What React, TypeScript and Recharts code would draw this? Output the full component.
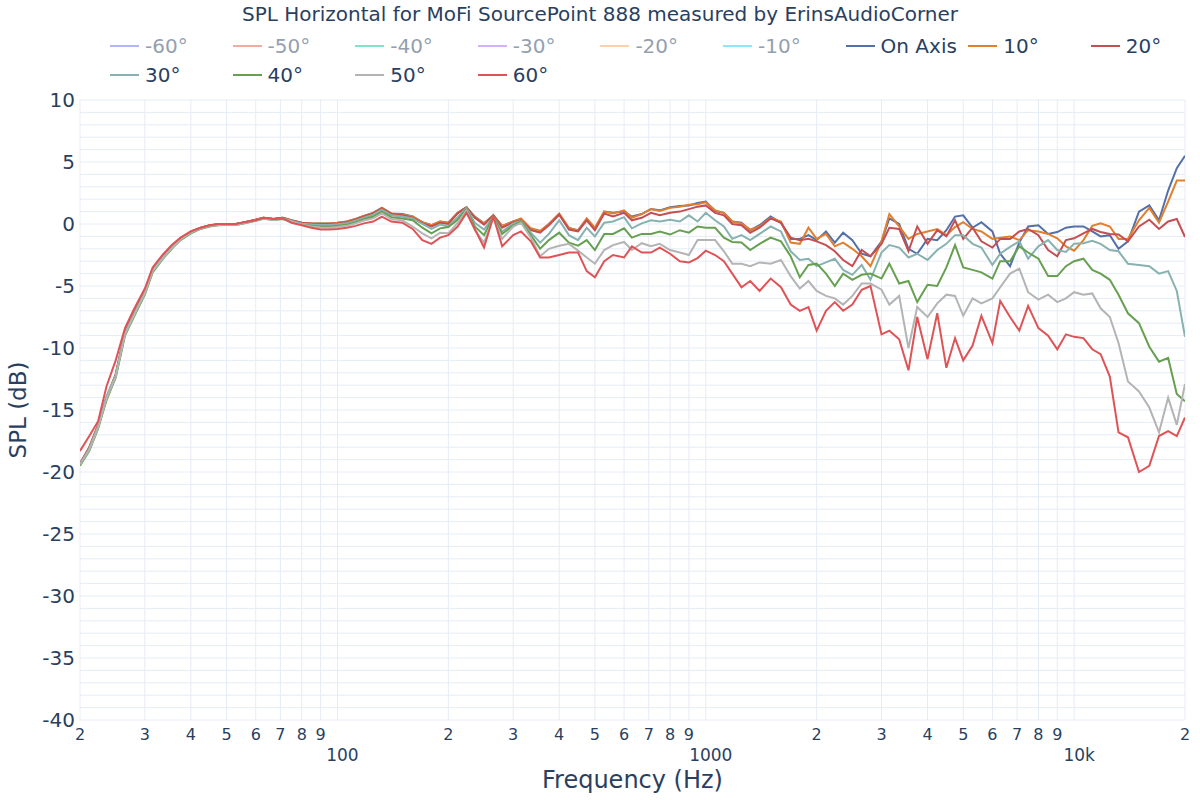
import React from 'react';
import { LineChart, Line, XAxis, YAxis, CartesianGrid, Label } from 'recharts';

// Frequency grid (Hz), roughly 1/12 octave
const freqs = [
  20, 21.2, 22.4, 23.6, 25, 26.5, 28, 30, 31.5, 33.5, 35.5, 37.5, 40, 42.5, 45, 47.5, 50, 53, 56, 60, 63, 67, 71, 75, 80, 85, 90, 95,
  100, 106, 112, 118, 125, 132, 140, 150, 160, 170, 180, 190, 200, 212, 224, 236, 250, 265, 280, 300, 315, 335, 355, 375, 400, 425, 450, 475, 500, 530, 560, 600, 630, 670, 710, 750, 800, 850, 900, 950,
  1000, 1060, 1120, 1180, 1250, 1320, 1400, 1500, 1600, 1700, 1800, 1900, 2000, 2120, 2240, 2360, 2500, 2650, 2800, 3000, 3150, 3350, 3550, 3750, 4000, 4250, 4500, 4750, 5000, 5300, 5600, 6000, 6300, 6700, 7100, 7500, 8000, 8500, 9000, 9500,
  10000, 10600, 11200, 11800, 12500, 13200, 14000, 15000, 16000, 17000, 18000, 19000, 20000,
];

// SPL (dB) per angle
const onAxis = [
  -19.4, -18.1, -16.3, -14.0, -12.2, -8.8, -7.3, -5.5, -3.7, -2.7, -1.85, -1.2, -0.65,
  -0.32, -0.12, -0.03, 0.0, 0.0, 0.15, 0.35, 0.5, 0.4, 0.5, 0.3, 0.1, 0.05, 0.05, 0.05,
  0.1, 0.2, 0.4, 0.65, 0.9, 1.3, 0.85, 0.8,
  0.6, 0.15, -0.1, 0.2, 0.1, 0.9, 1.35, 0.6, 0.05, 0.7, -0.15, 0.2, 0.4, -0.4, -0.6,
  0.0, 0.8, -0.35, -0.5, 0.4, -0.35, 1.0, 0.9, 1.0, 0.6, 0.8, 1.2, 1.1, 1.35, 1.45, 1.5, 1.7,
  1.8, 1.05, 0.9, 0.2, 0.1, -0.5, -0.1, 0.6, 0.1, -1.2, -1.2, -0.9, -1.3, -0.6, -1.5, -0.7, -1.3, -2.4, -2.6, -1.4,
  0.45, 0.0, -2.0, -2.4, -1.2, -1.3, -0.5, 0.6, 0.7, -0.3, 0.15, -0.6, -2.4, -3.4, -1.5, -0.2, -0.1, -0.8, -0.65, -0.3,
  -0.2, -0.2, -0.6, -1.0, -0.9, -2.0, -1.4, 1.0, 1.5, 0.3, 2.7, 4.5, 5.5,
];
const deg10 = [
  -19.4, -18.0, -16.2, -14.2, -12.2, -8.8, -7.3, -5.5, -3.7, -2.7, -1.85, -1.2, -0.65,
  -0.32, -0.12, -0.03, 0.0, 0.0, 0.15, 0.35, 0.5, 0.4, 0.5, 0.3, 0.1, 0.05, 0.05, 0.05,
  0.1, 0.2, 0.4, 0.65, 0.9, 1.3, 0.85, 0.75,
  0.6, 0.15, -0.1, 0.2, 0.1, 0.9, 1.35, 0.55, 0.05, 0.7, -0.15, 0.2, 0.45, -0.35, -0.55,
  0.0, 0.85, -0.3, -0.55, 0.45, -0.3, 1.0, 0.85, 1.1, 0.5, 0.8, 1.2, 1.05, 1.3, 1.4, 1.55, 1.6,
  1.75, 1.1, 0.9, 0.2, 0.05, -0.45, -0.2, 0.5, 0.2, -1.5, -1.6, -0.3, -1.2, -0.8, -1.8, -1.5, -2.0, -2.6, -3.4, -1.4,
  0.8, -0.2, -1.2, -0.8, -0.6, -0.4, -0.9, -0.25, 0.15, -0.4, -0.6, -1.2, -1.1, -1.0, -1.3, -0.5, -0.6, -0.8, -1.15, -1.8,
  -2.15, -1.3, -0.15, 0.05, -0.2, -1.2, -1.2, 0.3, 1.3, 0.1, 1.8, 3.5, 3.5,
];
const deg20 = [
  -19.3, -18.0, -16.2, -14.0, -12.1, -8.7, -7.2, -5.4, -3.6, -2.65, -1.8, -1.15, -0.6,
  -0.3, -0.1, -0.03, 0.0, 0.0, 0.15, 0.35, 0.5, 0.4, 0.5, 0.28, 0.08, 0.02, 0.0, 0.0,
  0.05, 0.15, 0.35, 0.6, 0.85, 1.25, 0.8, 0.7,
  0.5, 0.05, -0.2, 0.1, 0.0, 0.85, 1.35, 0.5, -0.05, 0.7, -0.3, 0.15, 0.3, -0.5, -0.7,
  -0.1, 0.75, -0.45, -0.6, 0.3, -0.5, 0.85, 0.6, 0.9, 0.3, 0.5, 0.9, 0.7, 0.9, 1.0, 1.2, 1.4,
  1.5, 0.9, 0.7, 0.0, -0.1, -0.7, -0.3, 0.45, 0.1, -1.1, -1.3, -1.2, -1.4, -1.7, -2.2, -2.9, -3.4, -2.1, -2.6, -1.6,
  -0.3, -0.4, -2.2, -0.2, -1.6, -0.5, -1.0, 0.3, -1.2, -0.3, -1.4, -1.9, -1.2, -1.2, -0.6, -0.4, -0.9, -2.1, -2.6, -1.3,
  -1.15, -0.75, -0.4, -0.65, -0.8, -0.85, -1.4, -0.2, 0.35, -0.4, 0.2, 0.4, -1.05,
];
const deg30 = [
  -19.4, -18.1, -16.3, -13.9, -12.2, -8.8, -7.3, -5.5, -3.7, -2.7, -1.85, -1.2, -0.67,
  -0.34, -0.15, -0.06, -0.03, -0.04, 0.1, 0.3, 0.47, 0.37, 0.45, 0.24, 0.02, -0.05, -0.08, -0.08,
  -0.02, 0.07, 0.27, 0.5, 0.75, 1.15, 0.7, 0.6,
  0.45, 0.0, -0.4, -0.05, -0.2, 0.55, 1.3, 0.1, -0.45, 0.6, -0.6, 0.05, 0.25, -0.7, -1.5,
  -0.8, 0.3, -0.9, -1.3, -0.3, -1.0, 0.1, 0.2, 0.55, -0.35, 0.05, 0.3, 0.2, 0.35, 0.2, 0.7, 0.2,
  0.9, 0.3, -0.2, -1.2, -0.9, -1.3, -0.8, -0.2, -0.6, -2.2, -2.9, -2.8, -3.4, -3.1, -2.8, -3.7, -4.1, -3.3, -4.5, -2.3,
  -1.7, -1.9, -2.7, -2.4, -2.9, -2.1, -1.6, -0.9, -0.9, -1.6, -1.9, -3.3, -2.4, -1.85, -1.4, -2.8, -1.8, -1.3, -2.1, -2.25,
  -1.6, -1.55, -1.35, -1.6, -2.1, -2.2, -3.2, -3.3, -3.4, -4.0, -3.8, -5.4, -9.1,
];
const deg40 = [
  -19.5, -18.3, -16.5, -14.2, -12.4, -9.0, -7.5, -5.7, -3.9, -2.85, -2.0, -1.3, -0.75,
  -0.4, -0.2, -0.1, -0.08, -0.08, 0.05, 0.25, 0.42, 0.32, 0.4, 0.18, -0.05, -0.15, -0.2, -0.2,
  -0.15, -0.05, 0.15, 0.38, 0.6, 1.0, 0.55, 0.45,
  0.3, -0.3, -0.75, -0.35, -0.25, 0.35, 1.2, -0.2, -0.9, 0.6, -0.8, -0.1, 0.2, -0.9, -2.0,
  -1.3, -0.7, -1.5, -1.75, -1.3, -2.1, -0.8, -0.8, -0.35, -1.1, -0.8, -0.8, -0.6, -0.85, -0.5, -0.7, -0.2,
  -0.3, -0.3, -1.1, -1.45, -1.5, -2.1, -1.6, -1.1, -1.4, -2.6, -4.3, -3.3, -3.2, -4.0, -5.0, -4.0, -4.5, -4.1, -4.0, -4.4,
  -3.2, -4.8, -4.6, -6.3, -4.9, -5.0, -3.5, -1.7, -3.5, -3.7, -3.9, -4.4, -3.0, -3.0, -1.8, -2.3, -2.8, -4.2, -4.2, -3.4,
  -3.0, -2.8, -3.7, -4.0, -4.5, -5.7, -7.2, -8.0, -9.9, -11.1, -10.8, -13.7, -14.3,
];
const deg50 = [
  -19.4, -18.2, -16.4, -14.1, -12.3, -8.9, -7.4, -5.6, -3.8, -2.8, -1.95, -1.25, -0.7,
  -0.37, -0.17, -0.08, -0.06, -0.06, 0.08, 0.27, 0.44, 0.33, 0.42, 0.2, -0.05, -0.2, -0.28, -0.3,
  -0.25, -0.15, 0.05, 0.28, 0.45, 0.85, 0.4, 0.3,
  -0.2, -0.75, -1.15, -0.7, -0.75, 0.1, 1.1, -0.5, -1.5, 0.5, -1.2, -0.2, 0.1, -1.1, -2.6,
  -2.0, -1.75, -1.6, -2.15, -2.7, -3.2, -2.1, -1.7, -1.45, -2.1, -1.55, -1.8, -1.6, -2.1, -2.3, -2.5, -1.3,
  -1.3, -1.3, -2.2, -3.2, -3.2, -3.4, -3.1, -3.2, -2.9, -4.2, -5.2, -4.6, -5.4, -5.8, -6.0, -6.5, -5.8, -4.8, -4.8, -5.3,
  -6.5, -5.8, -10.0, -6.7, -7.5, -6.4, -5.7, -5.8, -7.4, -6.0, -6.4, -6.0, -5.1, -4.0, -3.6, -5.5, -6.1, -5.7, -6.3, -6.0,
  -5.5, -5.7, -5.6, -6.8, -7.5, -9.6, -12.7, -13.5, -14.8, -16.8, -14.0, -16.2, -12.9,
];
const deg60 = [
  -18.3, -17.1, -15.9, -13.1, -11.0, -8.4, -6.9, -5.2, -3.5, -2.5, -1.7, -1.1, -0.6,
  -0.3, -0.1, 0.0, 0.0, 0.0, 0.15, 0.3, 0.5, 0.4, 0.45, 0.1, -0.1, -0.3, -0.45, -0.45,
  -0.4, -0.3, -0.15, 0.05, 0.2, 0.6, 0.2, 0.1,
  -0.4, -1.3, -1.6, -1.1, -0.9, -0.2, 0.9, -0.4, -1.9, 0.6, -1.8, -0.9, -0.6, -1.4, -2.7,
  -2.7, -2.5, -2.3, -2.3, -3.8, -4.3, -3.0, -2.5, -2.7, -1.8, -2.3, -2.3, -1.9, -2.4, -3.0, -3.1, -2.75,
  -2.15, -2.5, -3.0, -4.0, -5.1, -4.6, -5.4, -4.4, -5.1, -6.5, -7.0, -6.7, -8.6, -7.0, -6.3, -7.0, -6.5, -5.3, -5.0, -8.9,
  -8.6, -9.3, -11.8, -7.5, -10.9, -7.2, -11.6, -9.2, -11.0, -9.8, -7.4, -9.6, -6.2, -7.5, -8.6, -6.6, -8.4, -9.0, -10.1, -8.9,
  -9.1, -9.2, -10.1, -10.5, -12.3, -16.8, -17.2, -20.0, -19.5, -17.1, -16.7, -17.1, -15.6,
];

const seriesKeys = ['on', 'd10', 'd20', 'd30', 'd40', 'd50', 'd60'];
const seriesNames = ['On Axis', '10°', '20°', '30°', '40°', '50°', '60°'];
const seriesColors = ['#5470a8', '#e07f2e', '#c44e52', '#88b2b0', '#66a050', '#b4b4b4', '#de5456'];
const seriesValues = [onAxis, deg10, deg20, deg30, deg40, deg50, deg60];

// legend-only (toggled off) entries
const hiddenNames = ['-60°', '-50°', '-40°', '-30°', '-20°', '-10°'];
const hiddenColors = ['#b1b6fc', '#f7aa9d', '#7fe5ca', '#d5b1fc', '#ffd0ac', '#8ce9f9'];

const xTicks = [
  20, 30, 40, 50, 60, 70, 80, 90, 100, 200, 300, 400, 500, 600, 700, 800, 900,
  1000, 2000, 3000, 4000, 5000, 6000, 7000, 8000, 9000, 10000, 20000,
];
const xTickLabels = [
  '2', '3', '4', '5', '6', '7', '8', '9', '100', '2', '3', '4', '5', '6', '7', '8', '9',
  '1000', '2', '3', '4', '5', '6', '7', '8', '9', '10k', '2',
];
const decadeTicks = [100, 1000, 10000];
const yTicks = [-40, -35, -30, -25, -20, -15, -10, -5, 0, 5, 10];
const gridLevels = Array.from({ length: 51 }, (_, k) => -40 + k);

const data = freqs.map((f, i) => {
  const row: Record<string, number> = { f };
  seriesKeys.forEach((k, s) => {
    row[k] = seriesValues[s][i];
  });
  return row;
});

const FONT = 'DejaVu Sans, Verdana, sans-serif';
const TEXT = '#2a3f5f';
const FADED_TEXT = '#949faf';
const GRID = '#e6ecf5';

const FreqTick = (props: any) => {
  const { x, y, payload } = props;
  const idx = xTicks.indexOf(payload.value);
  const major = decadeTicks.includes(payload.value);
  return (
    <text
      x={major ? x + 5 : x}
      y={y + (major ? 41 : 20)}
      textAnchor="middle"
      fill={TEXT}
      fontSize={major ? 17 : 16}
      fontFamily={FONT}
    >
      {idx >= 0 ? xTickLabels[idx] : ''}
    </text>
  );
};

const LegendBlock = () => {
  const items = [
    ...hiddenNames.map((n, i) => ({ name: n, color: hiddenColors[i], off: true })),
    ...seriesNames.map((n, i) => ({ name: n, color: seriesColors[i], off: false })),
  ];
  return (
    <>
      {items.map((it, k) => {
        const col = k % 9;
        const row = Math.floor(k / 9);
        return (
          <div
            key={it.name}
            style={{
              position: 'absolute',
              left: 110 + col * 122.6,
              top: (row === 0 ? 45.5 : 74.5) - 12,
              height: 24,
              display: 'flex',
              alignItems: 'center',
              whiteSpace: 'nowrap',
            }}
          >
            <span style={{ display: 'inline-block', width: 29, height: 2, background: it.color, marginRight: 6 }} />
            <span style={{ fontSize: 20, color: it.off ? FADED_TEXT : TEXT, lineHeight: '24px' }}>{it.name}</span>
          </div>
        );
      })}
    </>
  );
};

export default function App() {
  return (
    <div
      style={{
        position: 'absolute',
        left: 0,
        top: 0,
        width: 1200,
        height: 800,
        background: '#fff',
        fontFamily: FONT,
      }}
    >
      <div
        style={{
          position: 'absolute',
          left: 0,
          width: 1200,
          top: 2,
          textAlign: 'center',
          fontSize: 20,
          color: TEXT,
          lineHeight: '24px',
        }}
      >
        SPL Horizontal for MoFi SourcePoint 888 measured by ErinsAudioCorner
      </div>
      <LegendBlock />
      <div style={{ position: 'absolute', left: 0, top: 0 }}>
        <LineChart width={1200} height={800} data={data} margin={{ top: 100, right: 15, bottom: 20, left: 0 }}>
          <CartesianGrid stroke={GRID} strokeWidth={1} horizontalValues={gridLevels} />
          <XAxis
            dataKey="f"
            type="number"
            scale="log"
            domain={[20, 20000]}
            ticks={xTicks}
            interval={0}
            allowDataOverflow
            axisLine={false}
            tickLine={false}
            tickSize={0}
            tickMargin={0}
            height={60}
            tick={<FreqTick />}
          >
            <Label
              value="Frequency (Hz)"
              position="insideBottom"
              offset={-8}
              style={{ fontSize: 24, fill: TEXT, fontFamily: FONT }}
            />
          </XAxis>
          <YAxis
            type="number"
            domain={[-40, 10]}
            ticks={yTicks}
            interval={0}
            allowDataOverflow
            axisLine={false}
            tickLine={false}
            tickSize={0}
            tickMargin={5}
            width={80}
            tick={{ fontSize: 20, fill: TEXT, fontFamily: FONT }}
          >
            <Label
              value="SPL (dB)"
              angle={-90}
              position="insideLeft"
              offset={18}
              style={{ fontSize: 23, fill: TEXT, fontFamily: FONT, textAnchor: 'middle' }}
            />
          </YAxis>
          {seriesKeys.map((k, s) => (
            <Line
              key={k}
              dataKey={k}
              name={seriesNames[s]}
              type="linear"
              stroke={seriesColors[s]}
              strokeWidth={2}
              dot={false}
              activeDot={false}
              isAnimationActive={false}
            />
          ))}
        </LineChart>
      </div>
    </div>
  );
}
